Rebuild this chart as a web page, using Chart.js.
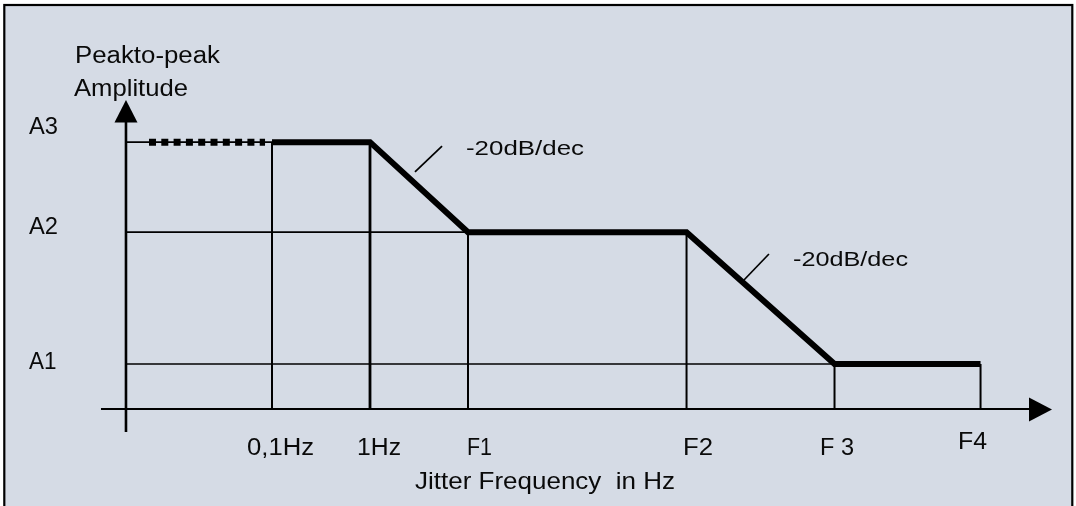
<!DOCTYPE html>
<html>
<head>
<meta charset="utf-8">
<script src="https://cdn.jsdelivr.net/npm/chart.js@4"></script>
<style>
  html, body { margin: 0; padding: 0; background: #ffffff; }
  #wrap { position: absolute; left: 0; top: 0; width: 1076px; height: 506px; }
  canvas { display: block; }
</style>
</head>
<body>
<div id="wrap"><canvas id="c" width="1076" height="506"></canvas></div>
<script>
// ---------------- DATA ----------------
// Frequency break points (x categories) and their positions in decades (log10 Hz, symbolic)
const categories   = ['0,1Hz', '1Hz', 'F1', 'F2', 'F 3', 'F4'];
const decades      = [-1, 0, 1, 3.23, 4.74, 6.23];
// Amplitude levels (relative dB)
const levelLabels  = ['A1', 'A2', 'A3'];
const levelValues  = [0, 29.3, 49.3];
// Tolerance mask amplitude at each break point
const maskLevels   = ['A3', 'A3', 'A2', 'A2', 'A1', 'A1'];
// Dashed extension of A3 towards lower frequencies (decades)
const extensionFrom = -2.255;
const extensionTo   = -1.071;
// Which level line runs from the y axis to which break point
const levelLineEnds = { A3: '0,1Hz', A2: 'F1', A1: 'F 3' };
// Slope annotations
const slopeText    = ['-20dB/dec', '-20dB/dec'];
const xTitle       = 'Jitter Frequency  in Hz';
const yTitle       = ['Peakto-peak', 'Amplitude'];

// ---------------- LAYOUT (not data) ----------------
const W = 1076, H = 506;
const PX_PER_DEC = 98, PX_OF_MINUS1 = 272;
const PX_PER_DB = 4.5, PX_OF_A1 = 364;
const X_MIN = -1 - PX_OF_MINUS1 / PX_PER_DEC, X_MAX = X_MIN + W / PX_PER_DEC;
const Y_MAX = PX_OF_A1 / PX_PER_DB, Y_MIN = -(H - PX_OF_A1) / PX_PER_DB;
const Y_AXIS_AT = -2.49;   // decades
const X_AXIS_AT = -10;     // dB
const BG = '#D5DBE5';
const INK = '#000000';
const FONT = '"Liberation Sans", Arial, sans-serif';

const levelOf = name => levelValues[levelLabels.indexOf(name)];
const maskValues = maskLevels.map(levelOf);

// ---------------- DATASETS ----------------
const datasets = [];
// main thick mask curve
datasets.push({
  data: decades.map((d, i) => ({ x: d, y: maskValues[i] })),
  borderColor: INK, borderWidth: 6, borderJoinStyle: 'miter', borderCapStyle: 'butt',
  pointRadius: 0, tension: 0, fill: false
});
// dashed extension
datasets.push({
  data: [{ x: extensionFrom, y: levelOf('A3') }, { x: extensionTo, y: levelOf('A3') }],
  borderColor: INK, borderWidth: 7, borderDash: [7, 5.3], borderCapStyle: 'butt',
  pointRadius: 0, fill: false
});
// thin horizontal level lines
Object.keys(levelLineEnds).forEach(lv => {
  const end = decades[categories.indexOf(levelLineEnds[lv])];
  datasets.push({
    data: [{ x: Y_AXIS_AT, y: levelOf(lv) }, { x: end, y: levelOf(lv) }],
    borderColor: INK, borderWidth: 1.6, pointRadius: 0, fill: false
  });
});
// thin vertical lines from the frequency axis to the mask
decades.forEach((d, i) => {
  datasets.push({
    data: [{ x: d, y: X_AXIS_AT }, { x: d, y: maskValues[i] }],
    borderColor: INK, borderWidth: categories[i] === '1Hz' ? 2.8 : 2, pointRadius: 0, fill: false
  });
});
// slope tick marks (annotation strokes) in data units
const slopeMarks = [
  [{ x: 0.459, y: 42.67 }, { x: 0.735, y: 48.44 }],
  [{ x: 3.816, y: 18.67 }, { x: 4.071, y: 24.44 }]
];
slopeMarks.forEach(m => datasets.push({
  data: m, borderColor: INK, borderWidth: 1.7, pointRadius: 0, fill: false
}));

// ---------------- TEXT HELPER ----------------
function drawText(ctx, str, left, baseline, size, width) {
  ctx.save();
  ctx.font = size + 'px ' + FONT;
  ctx.fillStyle = '#0a0a0a';
  ctx.textBaseline = 'alphabetic';
  ctx.textAlign = 'left';
  const m = ctx.measureText(str).width;
  const s = width ? width / m : 1;
  ctx.translate(left, baseline);
  ctx.scale(s, 1);
  ctx.fillText(str, 0, 0);
  ctx.restore();
}

const frame = {
  id: 'frame',
  beforeDraw(chart) {
    const ctx = chart.ctx;
    ctx.save();
    ctx.fillStyle = '#ffffff';
    ctx.fillRect(0, 0, W, H);
    ctx.fillStyle = BG;
    ctx.fillRect(4, 5, 1068.5, H);
    ctx.strokeStyle = INK;
    ctx.lineWidth = 2.2;
    ctx.strokeRect(4.3, 5, 1068, H + 20);
    ctx.restore();
  },
  beforeDatasetsDraw(chart) {
    const ctx = chart.ctx, xs = chart.scales.x, ys = chart.scales.y;
    const ax = xs.getPixelForValue(Y_AXIS_AT), ay = ys.getPixelForValue(X_AXIS_AT);
    ctx.save();
    ctx.strokeStyle = INK; ctx.fillStyle = INK;
    // y axis
    ctx.lineWidth = 2.6;
    ctx.beginPath(); ctx.moveTo(ax, ay + 23); ctx.lineTo(ax, 120); ctx.stroke();
    ctx.beginPath(); ctx.moveTo(ax, 100); ctx.lineTo(ax + 11.5, 122.5); ctx.lineTo(ax - 11.5, 122.5); ctx.closePath(); ctx.fill();
    // x axis
    ctx.lineWidth = 2.2;
    ctx.beginPath(); ctx.moveTo(ax - 25, ay); ctx.lineTo(1031, ay); ctx.stroke();
    ctx.beginPath(); ctx.moveTo(1052, ay + 0.5); ctx.lineTo(1029, ay - 11.5); ctx.lineTo(1029, ay + 12.5); ctx.closePath(); ctx.fill();
    ctx.restore();
  },
  afterDraw(chart) {
    const ctx = chart.ctx;
    // axis titles
    drawText(ctx, yTitle[0], 75, 62.5, 23.5, 145);
    drawText(ctx, yTitle[1], 74, 95.5, 24, 114);
    drawText(ctx, xTitle, 415, 488.5, 24, 260);
    // level labels
    const lvlPos = { A3: [29, 134, 29], A2: [29, 234, 29], A1: [29, 369, 27.5] };
    levelLabels.forEach(l => drawText(ctx, l, lvlPos[l][0], lvlPos[l][1], 23.5, lvlPos[l][2]));
    // frequency labels
    const fPos = {
      '0,1Hz': [247, 455, 67], '1Hz': [357, 455, 44], 'F1': [467, 455, 25],
      'F2': [683, 455, 30], 'F 3': [820, 455, 34], 'F4': [958, 449, 29]
    };
    categories.forEach(c => drawText(ctx, c, fPos[c][0], fPos[c][1], 23.5, fPos[c][2]));
    // slope annotations
    drawText(ctx, slopeText[0], 466, 154.5, 21, 118);
    drawText(ctx, slopeText[1], 793, 265.5, 21, 115);
  }
};

new Chart(document.getElementById('c'), {
  type: 'line',
  data: { datasets },
  options: {
    responsive: false,
    devicePixelRatio: 1,
    animation: false,
    layout: { padding: 0 },
    plugins: { legend: { display: false }, tooltip: { enabled: false }, title: { display: false } },
    elements: { line: { tension: 0 } },
    scales: {
      x: { type: 'linear', min: X_MIN, max: X_MAX, display: false },
      y: { type: 'linear', min: Y_MIN, max: Y_MAX, display: false }
    }
  },
  plugins: [frame]
});
</script>
</body>
</html>
